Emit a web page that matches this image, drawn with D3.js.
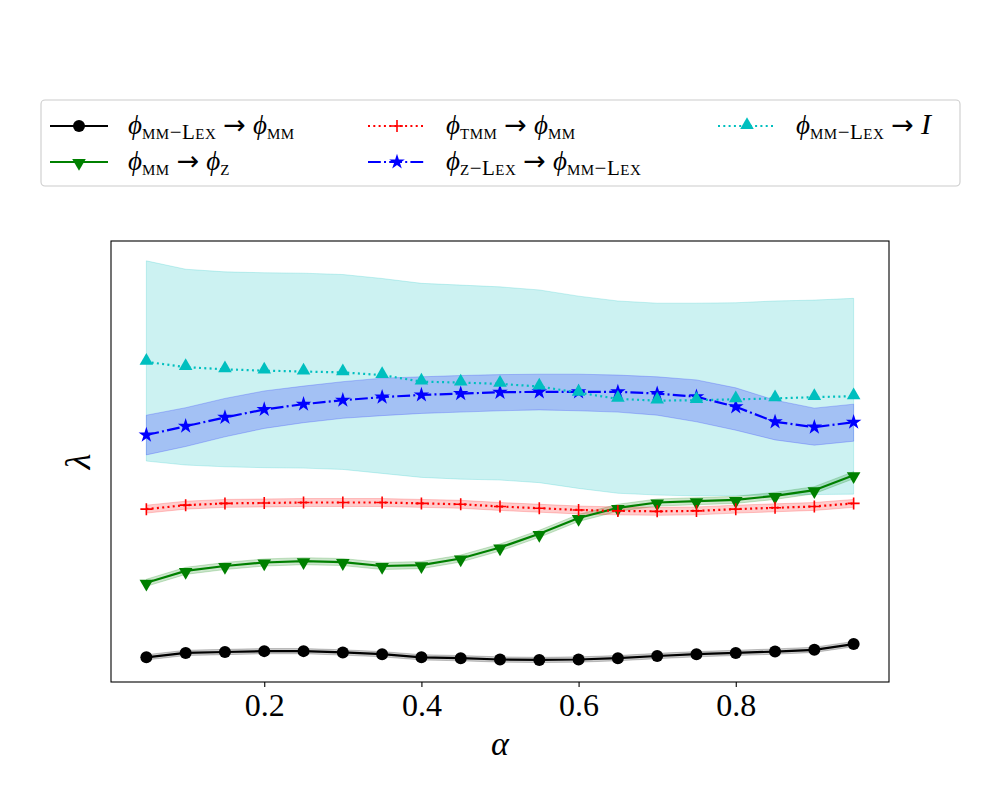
<!DOCTYPE html>
<html>
<head>
<meta charset="utf-8">
<script src="https://cdn.jsdelivr.net/npm/d3@7"></script>
<style>
  body { margin: 0; background: #fff; }
  svg { display: block; }
</style>
</head>
<body>
<div id="chart"></div>
<script>
// alpha values on the x axis
const alphas = [0.05, 0.10, 0.15, 0.20, 0.25, 0.30, 0.35, 0.40, 0.45, 0.50,
                0.55, 0.60, 0.65, 0.70, 0.75, 0.80, 0.85, 0.90, 0.95];
const xTicks = [0.2, 0.4, 0.6, 0.8];

// mean lambda per series (arbitrary units, axis has no y labels)
const mmLexToMm = [0.056, 0.066, 0.068, 0.070, 0.070, 0.067, 0.063, 0.056, 0.054, 0.051,
                   0.050, 0.051, 0.054, 0.059, 0.063, 0.066, 0.069, 0.073, 0.086];
const mmToZ = [0.225, 0.252, 0.263, 0.271, 0.274, 0.272, 0.263, 0.265, 0.280, 0.305,
               0.336, 0.372, 0.395, 0.407, 0.410, 0.413, 0.422, 0.435, 0.469];
const tmmToMm = [0.392, 0.401, 0.405, 0.406, 0.407, 0.407, 0.407, 0.405, 0.403, 0.398,
                 0.394, 0.390, 0.388, 0.387, 0.388, 0.392, 0.395, 0.398, 0.405];
const zLexToMmLex = [0.560, 0.580, 0.600, 0.618, 0.630, 0.639, 0.646, 0.651, 0.654, 0.657,
                     0.658, 0.658, 0.658, 0.654, 0.647, 0.624, 0.590, 0.578, 0.589];
const mmLexToI = [0.726, 0.714, 0.709, 0.706, 0.704, 0.702, 0.696, 0.681, 0.679, 0.676,
                  0.670, 0.656, 0.642, 0.638, 0.639, 0.641, 0.643, 0.646, 0.648];

// shaded spread (lower / upper bounds)
const zLexLow = [0.515, 0.534, 0.556, 0.575, 0.588, 0.598, 0.604, 0.609, 0.612, 0.615,
                 0.617, 0.615, 0.612, 0.605, 0.590, 0.571, 0.549, 0.537, 0.546];
const zLexHigh = [0.605, 0.622, 0.643, 0.660, 0.671, 0.681, 0.689, 0.692, 0.695, 0.697,
                  0.698, 0.698, 0.696, 0.692, 0.685, 0.667, 0.639, 0.621, 0.630];
const iLow = [0.501, 0.492, 0.488, 0.486, 0.485, 0.482, 0.473, 0.464, 0.460, 0.458,
              0.452, 0.439, 0.428, 0.424, 0.422, 0.423, 0.424, 0.425, 0.426];
const iHigh = [0.955, 0.936, 0.930, 0.928, 0.927, 0.924, 0.915, 0.904, 0.900, 0.896,
               0.889, 0.875, 0.864, 0.859, 0.859, 0.860, 0.864, 0.866, 0.870];
const mmLexSpread = 0.006;
const mmToZSpread = 0.008;
const tmmSpread = 0.009;

const width = 1000, height = 800;
const margin = { left: 111, right: 111, top: 241, bottom: 118 };

const svg = d3.select("#chart").append("svg")
    .attr("width", width)
    .attr("height", height)
    .style("font-family", "'Liberation Serif', 'DejaVu Serif', serif");

const x = d3.scaleLinear()
    .domain([0.005, 0.995])
    .range([margin.left, width - margin.right]);
const y = d3.scaleLinear()
    .domain([0, 1])
    .range([height - margin.bottom, margin.top]);

// series description
const series = [
    { key: "mmLex", values: mmLexToMm, lo: mmLexToMm.map(v => v - mmLexSpread), hi: mmLexToMm.map(v => v + mmLexSpread),
      color: "#000000", dash: null, marker: "circle" },
    { key: "mmZ", values: mmToZ, lo: mmToZ.map(v => v - mmToZSpread), hi: mmToZ.map(v => v + mmToZSpread),
      color: "#008000", dash: null, marker: "tridown" },
    { key: "tmm", values: tmmToMm, lo: tmmToMm.map(v => v - tmmSpread), hi: tmmToMm.map(v => v + tmmSpread),
      color: "#ff0000", dash: "2,3.3", marker: "plus" },
    { key: "zLex", values: zLexToMmLex, lo: zLexLow, hi: zLexHigh,
      color: "#0000ff", dash: "12.8,3.2,2,3.2", marker: "star" },
    { key: "mmI", values: mmLexToI, lo: iLow, hi: iHigh,
      color: "#00bfbf", dash: "2,3.3", marker: "triup" }
];

const area = d3.area()
    .x((d, i) => x(alphas[i]))
    .y0(d => y(d[0]))
    .y1(d => y(d[1]));
const line = d3.line()
    .x((d, i) => x(alphas[i]))
    .y(d => y(d));

const plot = svg.append("g");

// bands first, cyan one at the very back
[series[4], series[0], series[1], series[2], series[3]].forEach(s => {
    plot.append("path")
        .datum(s.lo.map((v, i) => [v, s.hi[i]]))
        .attr("d", area)
        .attr("fill", s.color)
        .attr("fill-opacity", 0.2)
        .attr("stroke", s.color)
        .attr("stroke-opacity", 0.2)
        .attr("stroke-width", 1);
});

// draw one marker of a given kind at (cx, cy)
function drawMarker(g, kind, color, cx, cy) {
    if (kind === "circle") {
        g.append("circle").attr("cx", cx).attr("cy", cy).attr("r", 6).attr("fill", color);
    } else if (kind === "tridown" || kind === "triup") {
        g.append("path")
            .attr("d", d3.symbol().type(d3.symbolTriangle).size(80)())
            .attr("transform", `translate(${cx},${cy + (kind === "tridown" ? 1 : -1)})rotate(${kind === "tridown" ? 180 : 0})`)
            .attr("fill", color);
    } else if (kind === "star") {
        g.append("path")
            .attr("d", d3.symbol().type(d3.symbolStar).size(75)())
            .attr("transform", `translate(${cx},${cy})`)
            .attr("fill", color);
    } else if (kind === "plus") {
        g.append("path")
            .attr("d", `M${cx - 6},${cy}H${cx + 6}M${cx},${cy - 6}V${cy + 6}`)
            .attr("stroke", color)
            .attr("stroke-width", 1.6)
            .attr("fill", "none");
    }
}

series.forEach(s => {
    const g = plot.append("g");
    g.append("path")
        .datum(s.values)
        .attr("d", line)
        .attr("fill", "none")
        .attr("stroke", s.color)
        .attr("stroke-width", 2.2)
        .attr("stroke-dasharray", s.dash);
    s.values.forEach((v, i) => drawMarker(g, s.marker, s.color, x(alphas[i]), y(v)));
});

// frame
svg.append("rect")
    .attr("x", margin.left)
    .attr("y", margin.top)
    .attr("width", width - margin.left - margin.right)
    .attr("height", height - margin.top - margin.bottom)
    .attr("fill", "none")
    .attr("stroke", "#000")
    .attr("stroke-width", 1.1);

// x axis
const xAxis = svg.append("g")
    .attr("transform", `translate(0,${height - margin.bottom})`)
    .call(d3.axisBottom(x).tickValues(xTicks).tickSize(5).tickPadding(6).tickFormat(d3.format(".1f")));
xAxis.select(".domain").remove();
xAxis.selectAll("line").attr("stroke-width", 1.1);
xAxis.selectAll("text")
    .attr("font-size", 32)
    .attr("font-family", "'Liberation Serif', serif")
    .attr("fill", "#000");

svg.append("text")
    .attr("x", (margin.left + width - margin.right) / 2)
    .attr("y", 755)
    .attr("text-anchor", "middle")
    .attr("font-size", 34)
    .attr("font-style", "italic")
    .text("α");

svg.append("text")
    .attr("transform", `translate(90,${(margin.top + height - margin.bottom) / 2})rotate(-90)`)
    .attr("text-anchor", "middle")
    .attr("font-size", 36)
    .attr("font-style", "italic")
    .text("λ");

// legend
const legendItems = [
    { s: series[0], col: 0, row: 0, parts: [["ϕ", "mm−Lex"], ["→"], ["ϕ", "mm"]] },
    { s: series[1], col: 0, row: 1, parts: [["ϕ", "mm"], ["→"], ["ϕ", "z"]] },
    { s: series[2], col: 1, row: 0, parts: [["ϕ", "tmm"], ["→"], ["ϕ", "mm"]] },
    { s: series[3], col: 1, row: 1, parts: [["ϕ", "z−Lex"], ["→"], ["ϕ", "mm−Lex"]] },
    { s: series[4], col: 2, row: 0, parts: [["ϕ", "mm−Lex"], ["→"], ["I"]] }
];
const colX = [50, 368, 718];
const rowY = [126, 162];
const subShift = 5;

const legend = svg.append("g");
legend.append("rect")
    .attr("x", 41).attr("y", 100)
    .attr("width", 919).attr("height", 86)
    .attr("rx", 4)
    .attr("fill", "#fff")
    .attr("stroke", "#cccccc")
    .attr("stroke-width", 1.1);

legendItems.forEach(it => {
    const lx = colX[it.col], ly = rowY[it.row];
    const g = legend.append("g");
    g.append("line")
        .attr("x1", lx).attr("x2", lx + 58)
        .attr("y1", ly).attr("y2", ly)
        .attr("stroke", it.s.color)
        .attr("stroke-width", 2.2)
        .attr("stroke-dasharray", it.s.dash);
    drawMarker(g, it.s.marker, it.s.color, lx + 29, ly);

    const t = g.append("text")
        .attr("x", lx + 78)
        .attr("y", ly + 8)
        .attr("font-size", 27);
    let gap = 0, lowered = false;
    it.parts.forEach(p => {
        const back = lowered ? -subShift : 0;
        lowered = false;
        if (p.length === 2) {
            t.append("tspan").attr("dx", gap).attr("dy", back).attr("font-style", "italic").text(p[0]);
            t.append("tspan")
                .attr("dy", subShift)
                .attr("font-size", 21)
                .attr("font-variant", "small-caps")
                .attr("letter-spacing", 0.5)
                .text(p[1]);
            lowered = true;
            gap = 0;
        } else if (p[0] === "I") {
            t.append("tspan").attr("dx", gap).attr("dy", back)
                .attr("font-style", "italic").attr("font-size", 30).text("I");
            gap = 0;
        } else {
            // arrow, wider than the serif font's own glyph
            t.append("tspan")
                .attr("dx", 7)
                .attr("dy", back)
                .attr("font-family", "'DejaVu Sans', sans-serif")
                .attr("font-size", 27)
                .text(p[0]);
            gap = 7;
        }
    });
});
</script>
</body>
</html>
